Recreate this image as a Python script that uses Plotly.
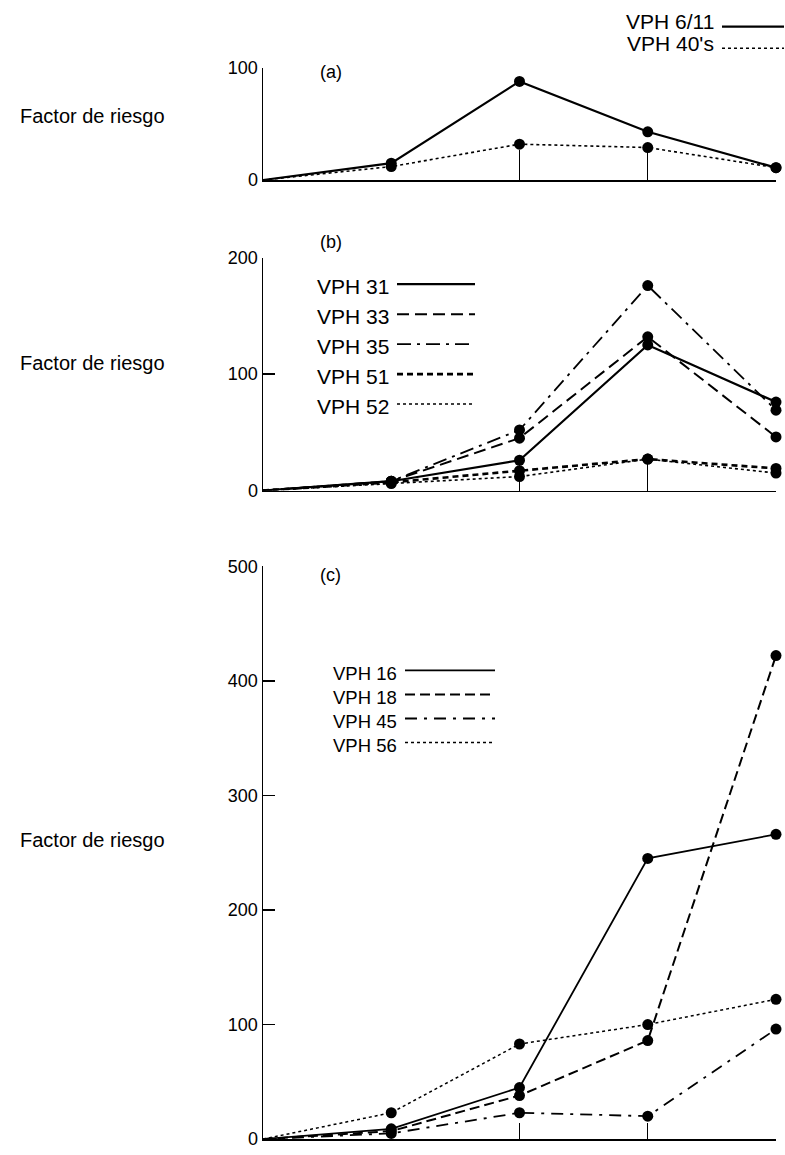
import plotly.graph_objects as go

# ---------------- data ----------------
categories = [0, 1, 2, 3, 4]

# panel (a)
a_names = ["VPH 6/11", "VPH 40's"]
vph_6_11 = [0, 15, 88, 43, 11]
vph_40s = [0, 12, 32, 29, 11]

# panel (b)
b_names = ["VPH 31", "VPH 33", "VPH 35", "VPH 51", "VPH 52"]
vph_31 = [0, 8, 26, 125, 76]
vph_33 = [0, 8, 45, 132, 46]
vph_35 = [0, 8, 52, 176, 69]
vph_51 = [0, 7, 17, 27, 19]
vph_52 = [0, 6, 12, 27, 15]

# panel (c)
c_names = ["VPH 16", "VPH 18", "VPH 45", "VPH 56"]
vph_16 = [0, 9, 45, 245, 266]
vph_18 = [0, 7, 38, 86, 422]
vph_45 = [0, 5, 23, 20, 96]
vph_56 = [0, 23, 83, 100, 122]

y_label = "Factor de riesgo"
panel_labels = ["(a)", "(b)", "(c)"]
a_ticks = [0, 100]
b_ticks = [0, 100, 200]
c_ticks = [0, 100, 200, 300, 400, 500]

# ---------------- layout helpers ----------------
W, H = 785, 1155
def px(x):
    return x / W
def py(y):
    return 1 - y / H

FONT = "Liberation Sans, Arial, sans-serif"

fig = go.Figure()

msize = [0, 11, 11, 11, 11]

def add_series(y, xa, ya, dash, width):
    fig.add_trace(go.Scatter(
        x=categories, y=y, xaxis=xa, yaxis=ya, mode="lines+markers",
        line=dict(color="black", width=width, dash=dash),
        marker=dict(color="black", size=msize, opacity=1,
                    line=dict(width=0)),
        cliponaxis=False, showlegend=False, hoverinfo="skip"))

a_styles = [("solid", 2.2), ("dot", 1.6)]
b_styles = [("solid", 2.2), ("12px,6px", 2.0), ("14px,6px,3px,6px", 1.8),
            ("6px,4px", 2.6), ("dot", 1.6)]
c_styles = [("solid", 1.8), ("10px,5px", 2.0), ("12px,7px,3px,7px", 1.8),
            ("dot", 1.5)]

for vals, st in zip([vph_6_11, vph_40s], a_styles):
    add_series(vals, "x", "y", *st)
for vals, st in zip([vph_31, vph_33, vph_35, vph_51, vph_52], b_styles):
    add_series(vals, "x2", "y2", *st)
for vals, st in zip([vph_16, vph_18, vph_45, vph_56], c_styles):
    add_series(vals, "x3", "y3", *st)

x_dom = [px(263), px(776)]
panels = [
    # (top_px, bottom_px, ticks, ticklen_mid, ticklen_end)
    (59, 173, a_ticks, 30, 10),
    (252, 489, b_ticks, 32, 8),
    (566, 1149, c_ticks, 16, 15),
]

axis_common = dict(showgrid=False, zeroline=False, showline=True,
                   linecolor="black", linewidth=1.5)
layout = {}
for i, (top, bot, ticks, tlx, tle) in enumerate(panels):
    s = "" if i == 0 else str(i + 1)
    layout["xaxis" + s] = dict(axis_common, domain=x_dom, range=[0, 4],
                               anchor="y" + s, tickvals=[2, 3],
                               ticks="inside", ticklen=tlx, tickcolor="black",
                               tickwidth=1, showticklabels=False,
                               fixedrange=True)
    # overlay axis carrying only the short end tick
    layout["xaxis" + str(i + 4)] = dict(domain=x_dom, range=[0, 4],
                                        anchor="y" + s, overlaying="x" + s,
                                        showline=False, showgrid=False,
                                        zeroline=False, tickvals=[4],
                                        ticks="inside", ticklen=tle,
                                        tickcolor="black", tickwidth=1.2,
                                        showticklabels=False, side="bottom",
                                        fixedrange=True)
    layout["yaxis" + s] = dict(axis_common, domain=[py(bot), py(top)],
                               range=[0, ticks[-1]], anchor="x" + s,
                               tickvals=ticks, ticks="inside", ticklen=12,
                               tickcolor="black", tickwidth=1.5,
                               tickfont=dict(family=FONT, size=18,
                                             color="black"),
                               fixedrange=True)

annotations = []
shapes = []

# y labels and panel letters
ylab_pos = [108, 359, 845]
for mid in ylab_pos:
    annotations.append(dict(text=y_label, x=px(18), y=py(mid), xref="paper",
                            yref="paper", xanchor="left", yanchor="middle",
                            showarrow=False,
                            font=dict(family=FONT, size=20, color="black")))
lab_pos = [(318, 63), (318, 236), (318, 575)]
for lab, (lx, ly) in zip(panel_labels, lab_pos):
    annotations.append(dict(text=lab, x=px(lx), y=py(ly), xref="paper",
                            yref="paper", xanchor="left", yanchor="middle",
                            showarrow=False,
                            font=dict(family=FONT, size=18, color="black")))

def legend_entry(name, tx, ty, lx0, lx1, ly, dash, width, size):
    annotations.append(dict(text=name, x=px(tx), y=py(ty), xref="paper",
                            yref="paper", xanchor="right", yanchor="middle",
                            showarrow=False, borderpad=0,
                            font=dict(family=FONT, size=size, color="black")))
    shapes.append(dict(type="line", xref="paper", yref="paper",
                       x0=px(lx0), x1=px(lx1), y0=py(ly), y1=py(ly),
                       line=dict(color="black", width=width, dash=dash)))

for k, (nm, st) in enumerate(zip(a_names, a_styles)):
    ty = 12 + 22 * k
    legend_entry(nm, 715, ty, 722, 784, ty + 5, st[0], st[1], 21)
for k, (nm, st) in enumerate(zip(b_names, b_styles)):
    ty = 281 + 30.5 * k
    legend_entry(nm, 390, ty, 397, 475, ty - 2, st[0], st[1], 21)
for k, (nm, st) in enumerate(zip(c_names, c_styles)):
    ty = 675 + 24.5 * k
    legend_entry(nm, 398, ty, 405, 495, ty - 3, st[0], st[1], 18.5)

layout.update(dict(width=W, height=H, margin=dict(l=0, r=0, t=0, b=0),
                   paper_bgcolor="white", plot_bgcolor="white",
                   annotations=annotations, shapes=shapes, showlegend=False))
fig.update_layout(**layout)
fig.write_html(
    "out.html",
    config={"displayModeBar": False, "staticPlot": True},
    post_script="document.body.style.margin='0';"
                "document.body.style.overflow='hidden';")
